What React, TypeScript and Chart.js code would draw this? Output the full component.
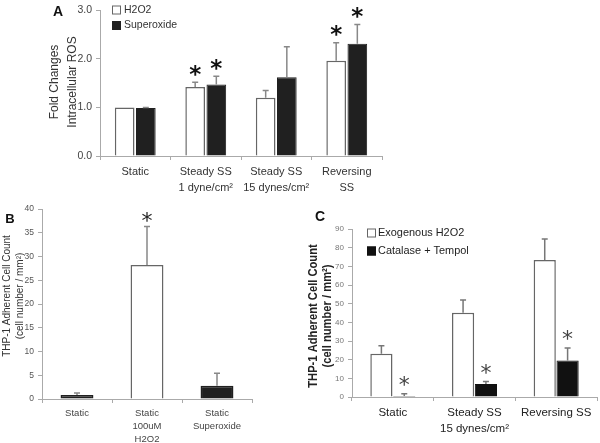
import React, { useEffect, useRef } from "react";
import { Chart, registerables } from "chart.js";
Chart.register(...registerables);

// ---------- Panel A data ----------
const categoriesA = [["Static"], ["Steady SS", "1 dyne/cm²"], ["Steady SS", "15 dynes/cm²"], ["Reversing", "SS"]];
const h2o2A = [1.0, 1.42, 1.2, 1.96];
const h2o2ErrA = [0, 0.1, 0.15, 0.37];
const h2o2SigA = [false, true, false, true];
const superoxideA = [0.99, 1.47, 1.62, 2.31];
const superoxideErrA = [0.01, 0.17, 0.63, 0.4];
const superoxideSigA = [false, true, false, true];
const yTicksA = ["0.0", "1.0", "2.0", "3.0"];

// ---------- Panel B data ----------
const categoriesB = [["Static"], ["Static", "100uM", "H2O2"], ["Static", "Superoxide"]];
const valuesB = [0.85, 28.2, 2.8];
const errB = [0.4, 8.1, 2.6];
const sigB = [false, true, false];
const kindB = ["dark", "light", "dark"];
const yTicksB = ["0", "5", "10", "15", "20", "25", "30", "35", "40"];

// ---------- Panel C data ----------
const categoriesC = [["Static"], ["Steady SS", "15 dynes/cm²"], ["Reversing SS"]];
const exogenousC = [23.2, 45.2, 73.4];
const exogenousErrC = [4.2, 6.7, 11.2];
const exogenousSigC = [false, false, false];
const catalaseC = [0.5, 6.9, 19.6];
const catalaseErrC = [1.3, 1.4, 6.6];
const catalaseSigC = [true, true, true];
const yTicksC = ["0", "10", "20", "30", "40", "50", "60", "70", "80", "90"];

const SANS = '"Liberation Sans", Arial, sans-serif';
const STAR = '"DejaVu Sans", sans-serif';

const LIGHT = { bg: "#ffffff", border: "#666666" };
const DARK = { bg: "#202020", border: "#202020" };

const decor = {
  id: "decor",
  afterDatasetsDraw(chart: any, _args: any, opts: any) {
    const ctx = chart.ctx;
    const ys = chart.scales.y;
    chart.data.datasets.forEach((ds: any, di: number) => {
      const meta = chart.getDatasetMeta(di);
      meta.data.forEach((bar: any, i: number) => {
        const v = ds.data[i];
        const e = ds.errors ? ds.errors[i] : 0;
        const yTop = ys.getPixelForValue(v + e);
        if (e > 0) {
          ctx.save();
          ctx.strokeStyle = opts.errColor;
          ctx.lineWidth = opts.errWidth;
          ctx.beginPath();
          ctx.moveTo(bar.x, bar.y);
          ctx.lineTo(bar.x, yTop);
          ctx.moveTo(bar.x - opts.capW / 2, yTop);
          ctx.lineTo(bar.x + opts.capW / 2, yTop);
          ctx.stroke();
          ctx.restore();
        }
        if (ds.sig && ds.sig[i]) {
          ctx.save();
          ctx.font = opts.starFont;
          ctx.fillStyle = opts.starColor;
          ctx.textAlign = "center";
          ctx.textBaseline = "alphabetic";
          const m = ctx.measureText("*");
          const cy = yTop - opts.starGap;
          const by = cy + (m.actualBoundingBoxAscent - m.actualBoundingBoxDescent) / 2;
          ctx.fillText("*", bar.x, by);
          ctx.restore();
        }
      });
    });
  },
  afterDraw(chart: any, _args: any, opts: any) {
    const ctx = chart.ctx;
    if (opts.yTitle) {
      const t = opts.yTitle;
      const sq = t.squeeze || 1;
      ctx.save();
      ctx.font = t.font;
      ctx.fillStyle = t.color;
      t.lines.forEach((line: string, i: number) => {
        ctx.save();
        ctx.translate(t.xs[i], t.cy);
        ctx.rotate(-Math.PI / 2);
        ctx.scale(sq, 1);
        ctx.textAlign = "center";
        ctx.textBaseline = "middle";
        ctx.fillText(line, 0, 0);
        ctx.restore();
      });
      ctx.restore();
    }
    if (opts.letter) {
      const l = opts.letter;
      ctx.save();
      ctx.font = l.font;
      ctx.fillStyle = "#111";
      ctx.textAlign = "center";
      ctx.textBaseline = "middle";
      ctx.fillText(l.text, l.x, l.y);
      ctx.restore();
    }
    if (opts.legend) {
      const lg = opts.legend;
      const sq = lg.squeeze || 1;
      ctx.save();
      ctx.font = lg.font;
      ctx.textBaseline = "middle";
      ctx.textAlign = "left";
      chart.data.datasets.forEach((ds: any, i: number) => {
        const cy = lg.ys[i];
        ctx.fillStyle = ds.backgroundColor;
        ctx.fillRect(lg.x, cy - lg.box / 2, lg.box, lg.box);
        ctx.strokeStyle = ds.borderColor;
        ctx.lineWidth = 1;
        ctx.strokeRect(lg.x + 0.5, cy - lg.box / 2 + 0.5, lg.box - 1, lg.box - 1);
        ctx.fillStyle = lg.color;
        ctx.save();
        ctx.translate(lg.textX, cy);
        ctx.scale(sq, 1);
        ctx.fillText(ds.label, 0, 0);
        ctx.restore();
      });
      ctx.restore();
    }
  },
};

function axes(opts: any) {
  return {
    x: {
      grid: { drawOnChartArea: false, drawTicks: true, tickLength: 4, color: opts.axisColor },
      border: { color: opts.axisColor, width: 1 },
      ticks: {
        font: opts.xFont,
        color: opts.xColor,
        padding: opts.xPad,
        maxRotation: 0,
        autoSkip: false,
      },
      afterFit: (s: any) => {
        s.height = opts.xHeight;
      },
    },
    y: {
      min: 0,
      max: opts.yMax,
      ticks: {
        stepSize: opts.step,
        font: opts.yFont,
        color: opts.yColor,
        padding: 4,
        callback: (_v: any, i: number) => opts.yLabels[i],
      },
      grid: { drawOnChartArea: false, drawTicks: true, tickLength: 4, color: opts.axisColor },
      border: { color: opts.axisColor, width: 1 },
      afterFit: (s: any) => {
        s.width = opts.yWidth;
      },
    },
  };
}

function buildA(): any {
  return {
    type: "bar",
    data: {
      labels: categoriesA,
      datasets: [
        {
          label: "H2O2",
          data: h2o2A,
          errors: h2o2ErrA,
          sig: h2o2SigA,
          backgroundColor: LIGHT.bg,
          borderColor: LIGHT.border,
          borderWidth: 1.5,
          categoryPercentage: 0.6,
          barPercentage: 0.93,
        },
        {
          label: "Superoxide",
          data: superoxideA,
          errors: superoxideErrA,
          sig: superoxideSigA,
          backgroundColor: DARK.bg,
          borderColor: DARK.border,
          borderWidth: 1,
          categoryPercentage: 0.6,
          barPercentage: 0.93,
        },
      ],
    },
    plugins: [decor],
    options: {
      animation: false,
      responsive: false,
      devicePixelRatio: 1,
      layout: { padding: { left: 60, right: 38, top: 8, bottom: 0 } },
      plugins: {
        legend: { display: false },
        tooltip: { enabled: false },
        decor: {
          errColor: "#888",
          errWidth: 1.5,
          capW: 6,
          starFont: `bold 23px ${STAR}`,
          starColor: "#111",
          starGap: 12,
          yTitle: { lines: ["Fold Changes", "Intracellular ROS"], xs: [55, 73], cy: 82, font: `12px ${SANS}`, color: "#333" },
          letter: { text: "A", x: 58, y: 12, font: `bold 14px ${SANS}` },
          legend: { x: 112, ys: [10, 25.5], box: 9, textX: 124, font: `10.5px ${SANS}`, color: "#333" },
        },
      },
      scales: axes({
        axisColor: "#aaa",
        xFont: { family: SANS, size: 11, lineHeight: 1.45 },
        xColor: "#333",
        xPad: 4,
        xHeight: 44,
        yMax: 3,
        step: 1,
        yFont: { family: SANS, size: 10.5 },
        yColor: "#444",
        yLabels: yTicksA,
        yWidth: 40,
      }),
    },
  };
}

function buildB(): any {
  return {
    type: "bar",
    data: {
      labels: categoriesB,
      datasets: [
        {
          label: "B",
          data: valuesB,
          errors: errB,
          sig: sigB,
          backgroundColor: kindB.map((k) => (k === "light" ? LIGHT.bg : DARK.bg)),
          borderColor: kindB.map((k) => (k === "light" ? LIGHT.border : DARK.border)),
          borderWidth: 1.5,
          categoryPercentage: 0.47,
          barPercentage: 1,
        },
      ],
    },
    plugins: [decor],
    options: {
      animation: false,
      responsive: false,
      devicePixelRatio: 1,
      layout: { padding: { left: 8, right: 38, top: 14, bottom: 0 } },
      plugins: {
        legend: { display: false },
        tooltip: { enabled: false },
        decor: {
          errColor: "#888",
          errWidth: 1.5,
          capW: 6,
          starFont: `22px ${STAR}`,
          starColor: "#222",
          starGap: 10,
          yTitle: { lines: ["THP-1 Adherent Cell Count", "(cell number / mm²)"], xs: [7, 20], cy: 101, font: `10px ${SANS}`, color: "#333" },
          letter: { text: "B", x: 10, y: 24.5, font: `bold 13px ${SANS}` },
        },
      },
      scales: axes({
        axisColor: "#aaa",
        xFont: { family: SANS, size: 9.5, lineHeight: 1.37 },
        xColor: "#444",
        xPad: 4,
        xHeight: 44,
        yMax: 40,
        step: 5,
        yFont: { family: SANS, size: 8.5 },
        yColor: "#555",
        yLabels: yTicksB,
        yWidth: 34,
      }),
    },
  };
}

function buildC(): any {
  return {
    type: "bar",
    data: {
      labels: categoriesC,
      datasets: [
        {
          label: "Exogenous H2O2",
          data: exogenousC,
          errors: exogenousErrC,
          sig: exogenousSigC,
          backgroundColor: LIGHT.bg,
          borderColor: LIGHT.border,
          borderWidth: 1.5,
          categoryPercentage: 0.56,
          barPercentage: 0.97,
        },
        {
          label: "Catalase + Tempol",
          data: catalaseC,
          errors: catalaseErrC,
          sig: catalaseSigC,
          backgroundColor: "#111",
          borderColor: "#111",
          borderWidth: 1,
          categoryPercentage: 0.56,
          barPercentage: 0.97,
        },
      ],
    },
    plugins: [decor],
    options: {
      animation: false,
      responsive: false,
      devicePixelRatio: 1,
      layout: { padding: { left: 22, right: 3, top: 34, bottom: 0 } },
      plugins: {
        legend: { display: false },
        tooltip: { enabled: false },
        decor: {
          errColor: "#777",
          errWidth: 1.5,
          capW: 6,
          starFont: `22px ${STAR}`,
          starColor: "#444",
          starGap: 13,
          yTitle: { lines: ["THP-1 Adherent Cell Count", "(cell number / mm²)"], xs: [23, 37], cy: 121, font: `bold 13px ${SANS}`, color: "#222", squeeze: 0.86 },
          letter: { text: "C", x: 30, y: 22, font: `bold 14px ${SANS}` },
          legend: { x: 77, ys: [38, 56], box: 9, textX: 88, font: `11.5px ${SANS}`, color: "#222", squeeze: 0.95 },
        },
      },
      scales: axes({
        axisColor: "#aaa",
        xFont: { family: SANS, size: 11.5, lineHeight: 1.45 },
        xColor: "#222",
        xPad: 3,
        xHeight: 46,
        yMax: 90,
        step: 10,
        yFont: { family: SANS, size: 8 },
        yColor: "#777",
        yLabels: yTicksC,
        yWidth: 40,
      }),
    },
  };
}

function ChartCanvas(props: { left: number; top: number; width: number; height: number; build: () => any }) {
  const ref = useRef<HTMLCanvasElement>(null);
  useEffect(() => {
    const chart = new Chart(ref.current as HTMLCanvasElement, props.build());
    return () => chart.destroy();
  }, []);
  return (
    <canvas
      ref={ref}
      width={props.width}
      height={props.height}
      style={{ position: "absolute", left: props.left, top: props.top, width: props.width, height: props.height }}
    />
  );
}

export default function App() {
  return (
    <div style={{ position: "absolute", left: 0, top: 0, width: 600, height: 443, background: "#fff", overflow: "hidden" }}>
      <ChartCanvas left={0} top={0} width={420} height={200} build={buildA} />
      <ChartCanvas left={0} top={195} width={290} height={248} build={buildB} />
      <ChartCanvas left={290} top={195} width={310} height={248} build={buildC} />
    </div>
  );
}
